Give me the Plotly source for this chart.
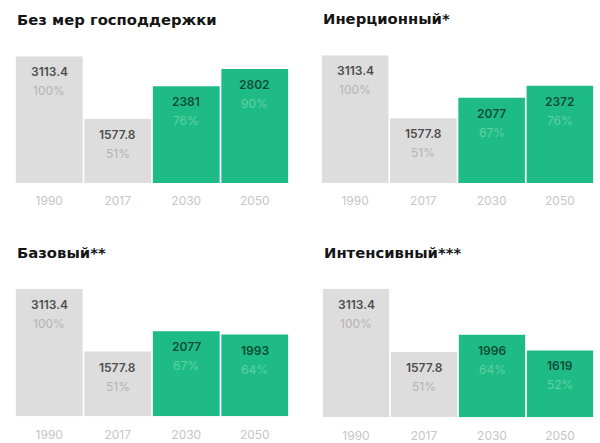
import plotly.graph_objects as go
from plotly.subplots import make_subplots

# Scenario data: emissions, thousand units, with share of the 1990 level
years = ["1990", "2017", "2030", "2050"]
titles = ["Без мер господдержки", "Инерционный*", "Базовый**", "Интенсивный***"]
values_no_support = [3113.4, 1577.8, 2381, 2802]
values_inertial = [3113.4, 1577.8, 2077, 2372]
values_base = [3113.4, 1577.8, 2077, 1993]
values_intensive = [3113.4, 1577.8, 1996, 1619]
labels_no_support = ["3113.4", "1577.8", "2381", "2802"]
labels_inertial = ["3113.4", "1577.8", "2077", "2372"]
labels_base = ["3113.4", "1577.8", "2077", "1993"]
labels_intensive = ["3113.4", "1577.8", "1996", "1619"]
pct_no_support = ["100%", "51%", "76%", "90%"]
pct_inertial = ["100%", "51%", "67%", "76%"]
pct_base = ["100%", "51%", "67%", "64%"]
pct_intensive = ["100%", "51%", "64%", "52%"]

series = [
    (values_no_support, labels_no_support, pct_no_support),
    (values_inertial, labels_inertial, pct_inertial),
    (values_base, labels_base, pct_base),
    (values_intensive, labels_intensive, pct_intensive),
]

W, H = 600, 443
# panel boxes in pixels: (left, right, top of 100% bar, baseline)
boxes = [
    (15, 289, 57, 185),
    (321, 594, 56, 185),
    (15, 289, 292, 421),
    (322, 594, 292, 422),
]
title_y = [20, 19, 255, 255]

GRAY = "#dddddd"
GREEN = "#1fbb87"
FONT = "Inter"
TITLE_FONT = "DejaVu Sans"

fig = make_subplots(rows=2, cols=2)
ymax = values_no_support[0]
positions = list(range(len(years)))

for i, ((vals, labs, pcts), (l, r, t, b)) in enumerate(zip(series, boxes)):
    row, col = i // 2 + 1, i % 2 + 1
    n = i + 1
    xa = "x" if n == 1 else f"x{n}"
    ya = "y" if n == 1 else f"y{n}"
    is_hist = [y in ("1990", "2017") for y in years]
    colors = [GRAY if h else GREEN for h in is_hist]
    fig.add_trace(go.Bar(
        x=positions, y=vals, marker=dict(color=colors, line=dict(width=0)),
        showlegend=False, hoverinfo="skip", width=0.975,
    ), row=row, col=col)
    fig.update_xaxes(
        domain=[l / W, r / W], range=[-0.5, len(years) - 0.5],
        tickmode="array", tickvals=positions, ticktext=years,
        showgrid=False, zeroline=False, showline=False,
        ticks="outside", ticklen=7, tickcolor="rgba(0,0,0,0)",
        tickfont=dict(family=FONT, size=12, color="#c6c6c6"), fixedrange=True,
        row=row, col=col,
    )
    fig.update_yaxes(
        domain=[(H - b) / H, (H - t) / H], range=[0, ymax],
        visible=False, fixedrange=True, row=row, col=col,
    )
    for p, v, lab, pct, h in zip(positions, vals, labs, pcts, is_hist):
        vcol = "#4e4e4e" if h else "#0b4d35"
        pcol = "#b4b4b4" if h else "#5fd0a0"
        fig.add_annotation(x=p, y=v, xref=xa, yref=ya, text=lab, showarrow=False,
                           yanchor="top", yshift=-6,
                           font=dict(family=FONT, size=12, color=vcol, weight=600))
        fig.add_annotation(x=p, y=v, xref=xa, yref=ya, text=pct, showarrow=False,
                           yanchor="top", yshift=-25,
                           font=dict(family=FONT, size=12, color=pcol))
    fig.add_annotation(x=l / W, y=(H - title_y[i]) / H, xref="paper", yref="paper",
                       xanchor="left", yanchor="middle", showarrow=False,
                       text=f"<b>{titles[i]}</b>",
                       font=dict(family=TITLE_FONT, size=14.8, color="#151515"))

fig.update_layout(
    width=W, height=H, margin=dict(l=0, r=0, t=0, b=0),
    paper_bgcolor="white", plot_bgcolor="white",
)
fig.write_html("out.html")
